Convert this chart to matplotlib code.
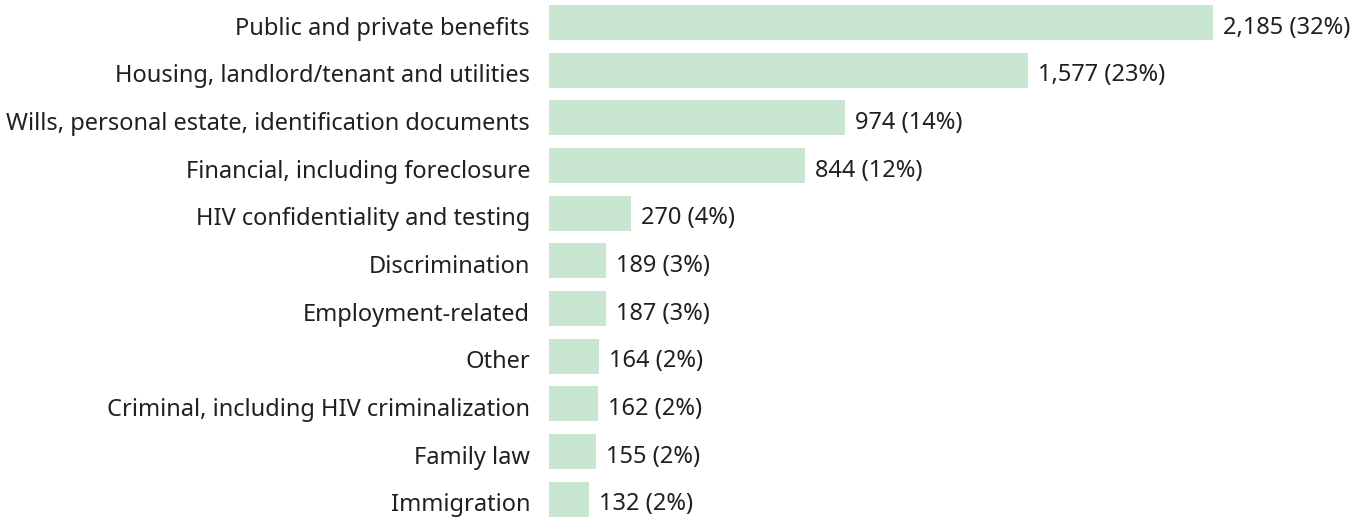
import matplotlib
matplotlib.use("Agg")
import matplotlib.pyplot as plt

categories = [
    "Public and private benefits",
    "Housing, landlord/tenant and utilities",
    "Wills, personal estate, identification documents",
    "Financial, including foreclosure",
    "HIV confidentiality and testing",
    "Discrimination",
    "Employment-related",
    "Other",
    "Criminal, including HIV criminalization",
    "Family law",
    "Immigration",
]
values = [2185, 1577, 974, 844, 270, 189, 187, 164, 162, 155, 132]
percents = [32, 23, 14, 12, 4, 3, 3, 2, 2, 2, 2]

BAR_COLOR = "#C8E6D2"
TEXT_COLOR = "#231F20"
FONT = ["Noto Sans", "DejaVu Sans"]
FS = 17

W, H = 1365, 519
fig = plt.figure(figsize=(W / 100, H / 100), dpi=100)
left_px = 549
px_per_unit = (1213 - 549) / 2185
ax = fig.add_axes([left_px / W, 0, 1 - left_px / W, 1])

pos = list(range(len(categories)))
ax.barh(pos, values, height=0.735, color=BAR_COLOR, linewidth=0)

ax.set_xlim(0, (W - left_px) / px_per_unit)
pitch = 47.67
ax.set_ylim(10 + (H - 499.2) / pitch, -22.5 / pitch)

for p, v, pc, c in zip(pos, values, percents, categories):
    ax.annotate(f"{v:,} ({pc}%)", xy=(v, p), xytext=(10, -11), textcoords="offset pixels",
                va="baseline", ha="left", fontsize=FS, color=TEXT_COLOR, family=FONT,
                annotation_clip=False)
    ax.annotate(c, xy=(0, p), xytext=(-19, -12), textcoords="offset pixels",
                va="baseline", ha="right", fontsize=FS, color=TEXT_COLOR, family=FONT,
                annotation_clip=False)

ax.set_yticks([])
ax.set_xticks([])
for s in ax.spines.values():
    s.set_visible(False)
ax.patch.set_alpha(0)

fig.savefig("out.png", dpi=100)
